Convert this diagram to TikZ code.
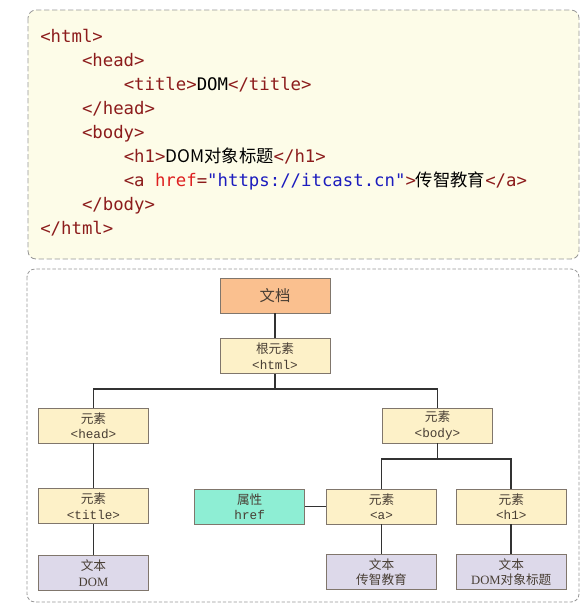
\documentclass[tikz,border=0pt]{standalone}
\usepackage{fontspec}
\setmainfont{Liberation Serif}
\setmonofont{DejaVu Sans Mono}
\newfontfamily\cjk{Noto Sans CJK SC}
\newfontfamily\tagfont{Liberation Mono}
\usepackage{tikz}
\usetikzlibrary{positioning}
\usepackage{xcolor}
\definecolor{tagred}{RGB}{140, 28, 28}
\definecolor{attrred}{RGB}{222, 32, 32}
\definecolor{strblue}{RGB}{28, 28, 190}
\definecolor{codebg}{RGB}{253, 252, 232}
\definecolor{framegray}{RGB}{150, 150, 150}
\definecolor{docorange}{RGB}{250, 192, 143}
\definecolor{elemyellow}{RGB}{253, 241, 200}
\definecolor{attrgreen}{RGB}{142, 238, 212}
\definecolor{textlilac}{RGB}{221, 217, 234}
\definecolor{boxline}{RGB}{128, 118, 108}
\definecolor{boxtext}{RGB}{72, 62, 52}
\definecolor{linkgray}{RGB}{50, 50, 50}

\newcommand{\tg}[1]{\textcolor{tagred}{#1}}
\newcommand{\tb}{\phantom{0000}}
\newcommand{\twoline}[2]{{\cjk #1}\\#2}

\begin{document}
\begin{tikzpicture}[
    x=0.75pt, y=-0.75pt,
    box/.style={rectangle, draw=boxline, line width=0.6pt, minimum width=82.5pt, minimum height=26.25pt, inner sep=0pt, align=center, text=boxtext, font=\fontsize{9.5}{11.5}\selectfont},
    docbox/.style={box, fill=docorange, font=\fontsize{11.5}{14}\selectfont},
    elem/.style={box, fill=elemyellow},
    attr/.style={box, fill=attrgreen},
    txt/.style={box, fill=textlilac},
    code/.style={inner sep=0pt, align=left, font=\fontsize{13}{18}\selectfont\ttfamily},
    link/.style={draw=linkgray, line width=1.4pt},
    frame/.style={draw=framegray, line width=0.6pt, rounded corners=6pt}
]
    \useasboundingbox (0,0) rectangle (583,608);

    % source code panel
    \draw[frame, fill=codebg, dash pattern=on 4pt off 2pt] (28,10) rectangle (579,259);
    \node[code, anchor=north west] (src) at (40,29) {%
        \tg{<html>}\\
        \tb\tg{<head>}\\
        \tb\tb\tg{<title>}DOM\tg{</title>}\\
        \tb\tg{</head>}\\
        \tb\tg{<body>}\\
        \tb\tb\tg{<h1>}{\cjk DOM对象标题}\tg{</h1>}\\
        \tb\tb\tg{<a} \textcolor{attrred}{href}\tg{=}\textcolor{strblue}{"https://itcast.cn"}\tg{>}{\cjk 传智教育}\tg{</a>}\\
        \tb\tg{</body>}\\
        \tg{</html>}};

    % DOM tree panel
    \draw[frame, dash pattern=on 2.5pt off 1.5pt] (27,269) rectangle (579,602);

    \node[docbox] (doc) at (275,295.5) {{\cjk 文档}};
    \node[elem, below=18.75pt of doc] (html) {\twoline{根元素}{{\tagfont <html>}}};
    \node[elem] (head) at (93.5,425.5) {\twoline{元素}{{\tagfont <head>}}};
    \node[elem] (body) at (437.5,425.5) {\twoline{元素}{{\tagfont <body>}}};
    \node[elem, below=33.75pt of head] (title) {\twoline{元素}{{\tagfont <title>}}};
    \node[elem] (a) at (381.5,506.5) {\twoline{元素}{{\tagfont <a>}}};
    \node[elem, right=14.25pt of a] (h1) {\twoline{元素}{{\tagfont <h1>}}};
    \node[attr, left=15.75pt of a] (href) {\twoline{属性}{{\tagfont href}}};
    \node[txt, below=23.25pt of title] (tdom) {\twoline{文本}{DOM}};
    \node[txt, below=22.5pt of a] (tcz) {\twoline{文本}{{\cjk 传智教育}}};
    \node[txt, below=22.5pt of h1] (th1) {\twoline{文本}{DOM{\cjk 对象标题}}};

    \draw[link] (doc) -- (html);
    \draw[link] (html.south) -- ++(0,15) -| (head.north);
    \draw[link] (html.south) -- ++(0,15) -| (body.north);
    \draw[link] (body.south) -- ++(0,16) -| (a.north);
    \draw[link] (body.south) -- ++(0,16) -| (h1.north);
    \draw[link] (href) -- (a);
    \draw[link] (head) -- (title);
    \draw[link] (title) -- (tdom);
    \draw[link] (a) -- (tcz);
    \draw[link] (h1) -- (th1);
\end{tikzpicture}
\end{document}
